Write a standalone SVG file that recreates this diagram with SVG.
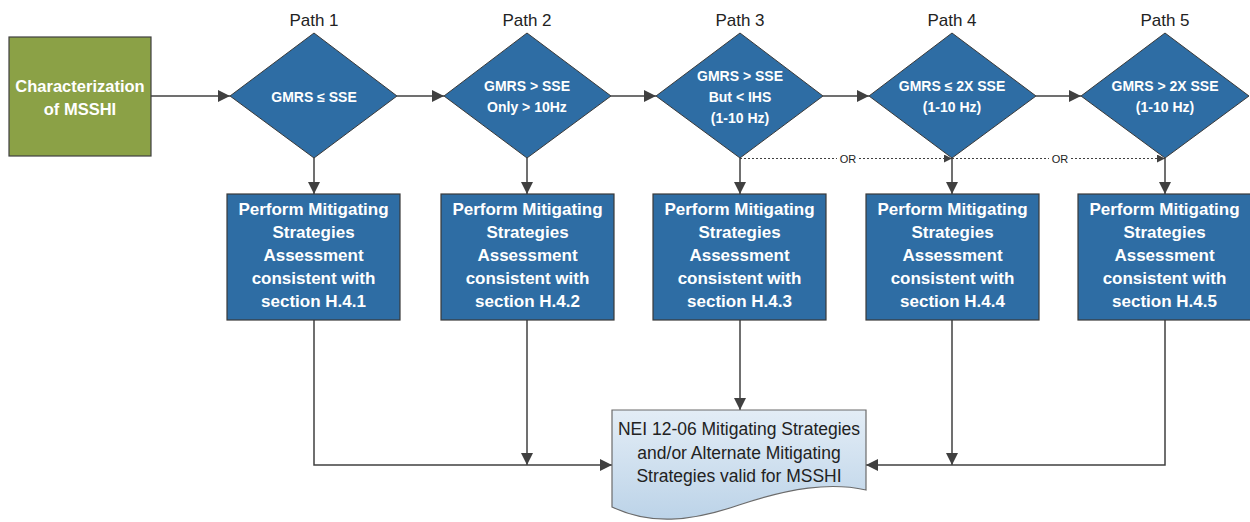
<svg xmlns="http://www.w3.org/2000/svg" width="1250" height="522" viewBox="0 0 1250 522">
<style>
.ln{stroke:#404040;stroke-width:1.5;fill:none}
.dot{stroke:#404040;stroke-width:1;fill:none;stroke-dasharray:2,2}
.dia{fill:#2E6DA4;stroke:#3a3a3a;stroke-width:1}
.box{fill:#2E6DA4;stroke:#3a3a3a;stroke-width:1.2}
.wb{font-family:"Liberation Sans",Arial,sans-serif;font-weight:bold;fill:#fff;text-anchor:middle;dominant-baseline:central}
.d{font-size:14px}
.b{font-size:17px}
.lbl{font-family:"Liberation Sans",Arial,sans-serif;font-size:17px;fill:#222;text-anchor:middle;dominant-baseline:central}
.or{font-family:"Liberation Sans",Arial,sans-serif;font-size:11px;fill:#222;text-anchor:middle;dominant-baseline:central}
.doc{font-family:"Liberation Sans",Arial,sans-serif;font-size:17.5px;fill:#222;text-anchor:middle;dominant-baseline:central}
</style>
<defs>
<marker id="ah" viewBox="0 0 10 10" refX="10" refY="5" markerWidth="8" markerHeight="8" markerUnits="userSpaceOnUse" orient="auto">
<path d="M0,0 L10,5 L0,10 Z" fill="#404040"/>
</marker>
<marker id="ah2" viewBox="0 0 10 10" refX="10" refY="5" markerWidth="12" markerHeight="12" markerUnits="userSpaceOnUse" orient="auto">
<path d="M0,0 L10,5 L0,10 Z" fill="#404040"/>
</marker>
<linearGradient id="dg" x1="0" y1="0" x2="0" y2="1">
<stop offset="0" stop-color="#e3edf6"/>
<stop offset="1" stop-color="#bcd3e8"/>
</linearGradient>
</defs>

<g id="connectors">
<line class="ln" x1="151" y1="96" x2="230" y2="96" marker-end="url(#ah2)"/>
<line class="ln" x1="397" y1="96" x2="444" y2="96" marker-end="url(#ah2)"/>
<line class="ln" x1="611" y1="96" x2="656" y2="96" marker-end="url(#ah2)"/>
<line class="ln" x1="823" y1="96" x2="869" y2="96" marker-end="url(#ah2)"/>
<line class="ln" x1="1036" y1="96" x2="1081" y2="96" marker-end="url(#ah2)"/>
<line class="ln" x1="314" y1="158" x2="314" y2="194" marker-end="url(#ah2)"/>
<line class="ln" x1="527" y1="158" x2="527" y2="194" marker-end="url(#ah2)"/>
<line class="ln" x1="740" y1="158" x2="740" y2="194" marker-end="url(#ah2)"/>
<line class="ln" x1="952" y1="158" x2="952" y2="194" marker-end="url(#ah2)"/>
<line class="ln" x1="1165" y1="158" x2="1165" y2="194" marker-end="url(#ah2)"/>
<line class="dot" x1="740" y1="158.5" x2="837" y2="158.5"/>
<line class="dot" x1="859" y1="158.5" x2="952" y2="158.5" marker-end="url(#ah)"/>
<line class="dot" x1="952" y1="158.5" x2="1049" y2="158.5"/>
<line class="dot" x1="1071" y1="158.5" x2="1165" y2="158.5" marker-end="url(#ah)"/>
<text class="or" x="848" y="159">OR</text>
<text class="or" x="1060" y="159">OR</text>
<polyline class="ln" points="314,320 314,465 612,465" marker-end="url(#ah2)"/>
<line class="ln" x1="527" y1="320" x2="527" y2="465" marker-end="url(#ah2)"/>
<line class="ln" x1="740" y1="320" x2="740" y2="410" marker-end="url(#ah2)"/>
<line class="ln" x1="952" y1="320" x2="952" y2="465" marker-end="url(#ah2)"/>
<polyline class="ln" points="1165,320 1165,465 866,465" marker-end="url(#ah2)"/>
</g>

<g id="start">
<rect x="9" y="37" width="142" height="119" fill="#8BA146" stroke="#404040" stroke-width="1.2"/>
<text class="wb" x="80" y="86" style="font-size:16.5px">Characterization</text>
<text class="wb" x="80" y="109" style="font-size:16.5px">of MSSHI</text>
</g>

<g id="path1">
<text class="lbl" x="314" y="20">Path 1</text>
<polygon class="dia" points="314,33 397,96 314,158 230,96"/>
<text class="wb d" x="314" y="97">GMRS ≤  SSE</text>
</g>
<g id="path2">
<text class="lbl" x="527" y="20">Path 2</text>
<polygon class="dia" points="527,33 611,96 527,158 444,96"/>
<text class="wb d" x="527" y="86">GMRS &gt; SSE</text>
<text class="wb d" x="527" y="107">Only &gt; 10Hz</text>
</g>
<g id="path3">
<text class="lbl" x="740" y="20">Path 3</text>
<polygon class="dia" points="740,33 823,96 740,158 656,96"/>
<text class="wb d" x="740" y="76">GMRS &gt; SSE</text>
<text class="wb d" x="740" y="97">But &lt; IHS</text>
<text class="wb d" x="740" y="118">(1-10 Hz)</text>
</g>
<g id="path4">
<text class="lbl" x="952" y="20">Path 4</text>
<polygon class="dia" points="952,33 1036,96 952,158 869,96"/>
<text class="wb d" x="952" y="86">GMRS ≤ 2X SSE</text>
<text class="wb d" x="952" y="107">(1-10 Hz)</text>
</g>
<g id="path5">
<text class="lbl" x="1165" y="20">Path 5</text>
<polygon class="dia" points="1165,33 1249,96 1165,158 1081,96"/>
<text class="wb d" x="1165" y="86">GMRS &gt; 2X SSE</text>
<text class="wb d" x="1165" y="107">(1-10 Hz)</text>
</g>

<g id="box1">
<rect class="box" x="227" y="194" width="173" height="126"/>
<text class="wb b" x="313.5" y="209">Perform Mitigating</text>
<text class="wb b" x="313.5" y="232">Strategies</text>
<text class="wb b" x="313.5" y="255">Assessment</text>
<text class="wb b" x="313.5" y="278">consistent with</text>
<text class="wb b" x="313.5" y="301">section H.4.1</text>
</g>
<g id="box2">
<rect class="box" x="441" y="194" width="173" height="126"/>
<text class="wb b" x="527.5" y="209">Perform Mitigating</text>
<text class="wb b" x="527.5" y="232">Strategies</text>
<text class="wb b" x="527.5" y="255">Assessment</text>
<text class="wb b" x="527.5" y="278">consistent with</text>
<text class="wb b" x="527.5" y="301">section H.4.2</text>
</g>
<g id="box3">
<rect class="box" x="653" y="194" width="173" height="126"/>
<text class="wb b" x="739.5" y="209">Perform Mitigating</text>
<text class="wb b" x="739.5" y="232">Strategies</text>
<text class="wb b" x="739.5" y="255">Assessment</text>
<text class="wb b" x="739.5" y="278">consistent with</text>
<text class="wb b" x="739.5" y="301">section H.4.3</text>
</g>
<g id="box4">
<rect class="box" x="866" y="194" width="173" height="126"/>
<text class="wb b" x="952.5" y="209">Perform Mitigating</text>
<text class="wb b" x="952.5" y="232">Strategies</text>
<text class="wb b" x="952.5" y="255">Assessment</text>
<text class="wb b" x="952.5" y="278">consistent with</text>
<text class="wb b" x="952.5" y="301">section H.4.4</text>
</g>
<g id="box5">
<rect class="box" x="1078" y="194" width="173" height="126"/>
<text class="wb b" x="1164.5" y="209">Perform Mitigating</text>
<text class="wb b" x="1164.5" y="232">Strategies</text>
<text class="wb b" x="1164.5" y="255">Assessment</text>
<text class="wb b" x="1164.5" y="278">consistent with</text>
<text class="wb b" x="1164.5" y="301">section H.4.5</text>
</g>

<g id="result">
<path d="M612,410 H866 V490 C830,482 790,488 739,505 C690,522 650,525 612,507 Z" fill="url(#dg)" stroke="#6b6b6b" stroke-width="1.2"/>
<text class="doc" x="739" y="429">NEI 12-06 Mitigating Strategies</text>
<text class="doc" x="739" y="453">and/or Alternate Mitigating</text>
<text class="doc" x="739" y="476">Strategies valid for MSSHI</text>
</g>
</svg>
